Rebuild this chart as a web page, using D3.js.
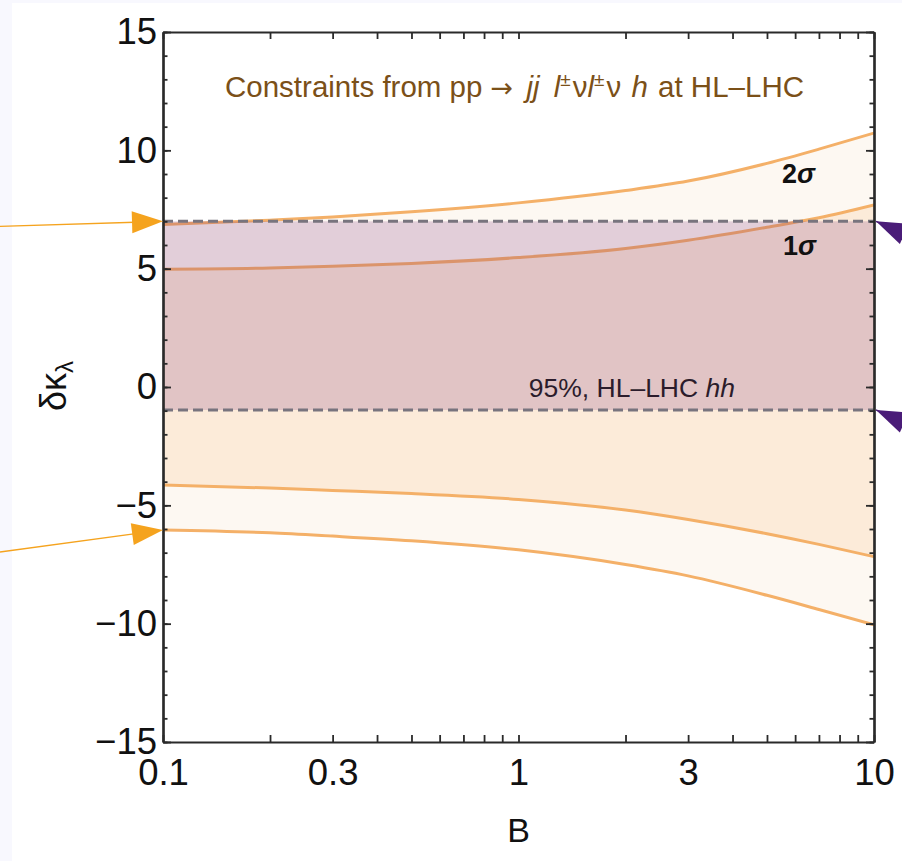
<!DOCTYPE html>
<html>
<head>
<meta charset="utf-8">
<script src="https://cdn.jsdelivr.net/npm/d3@7"></script>
<style>
  html, body { margin: 0; padding: 0; background: #fff; }
  svg { display: block; }
  text { font-family: "Liberation Sans", Arial, Helvetica, sans-serif; }
</style>
</head>
<body>
<svg id="chart" width="902" height="861"></svg>
<script>
// values
const bValues   = [0.1, 0.2, 0.3, 0.5, 1, 2, 3, 5, 7, 10];
const upper2sig = [6.87, 7.05, 7.18, 7.4, 7.78, 8.3, 8.7, 9.45, 10.05, 10.73];
const upper1sig = [4.98, 5.03, 5.1, 5.22, 5.47, 5.85, 6.2, 6.75, 7.15, 7.69];
const lower1sig = [-4.14, -4.27, -4.37, -4.5, -4.75, -5.2, -5.6, -6.2, -6.65, -7.17];
const lower2sig = [-6.04, -6.16, -6.3, -6.5, -6.88, -7.5, -7.98, -8.8, -9.4, -10.05];

// 95% HL-LHC hh band
const hhBand = [-0.97, 7.0];

const xLabelTicks = [0.1, 0.3, 1, 3, 10];
const yMajorTicks = [-15, -10, -5, 0, 5, 10, 15];
const yMinorTicks = d3.range(-15, 16, 1);

// arrows pointing at the frame
const leftArrows  = [7.0, -6.04];
const rightArrows = [7.0, -0.97];

const svg = d3.select("#chart");
const W = 902, H = 861;
const margin = {top: 32, right: 28, bottom: 119, left: 163};
const x0 = margin.left, x1 = W - margin.right;
const y0 = margin.top, y1 = H - margin.bottom;

// page background strips
svg.append("rect").attr("width", W).attr("height", H).attr("fill", "#f8f8fe");
svg.append("rect").attr("x", 12).attr("y", 3).attr("width", W - 12).attr("height", H - 3).attr("fill", "#fff");

const x = d3.scaleLog().domain([0.1, 10]).range([x0, x1]);
const y = d3.scaleLinear().domain([-15, 15]).range([y1, y0]);

const rows = bValues.map((b, i) => ({b, u2: upper2sig[i], u1: upper1sig[i], l1: lower1sig[i], l2: lower2sig[i]}));

svg.append("clipPath").attr("id", "clip")
  .append("rect").attr("x", x0).attr("y", y0).attr("width", x1 - x0).attr("height", y1 - y0);

const plot = svg.append("g").attr("clip-path", "url(#clip)");

const band = (lo, hi) => d3.area().curve(d3.curveMonotoneX)
  .x(d => x(d.b)).y0(d => y(d[lo])).y1(d => y(d[hi]));
const line = key => d3.line().curve(d3.curveMonotoneX).x(d => x(d.b)).y(d => y(d[key]));

plot.append("path").datum(rows).attr("d", band("l2", "u2")).attr("fill", "#fdf8f2");
plot.append("path").datum(rows).attr("d", band("l1", "u1")).attr("fill", "#fcebd9");

["u2", "u1", "l1", "l2"].forEach(k => {
  plot.append("path").datum(rows).attr("d", line(k))
    .attr("fill", "none").attr("stroke", "#f4b068").attr("stroke-width", 3);
});

// purple overlay for the hh band
plot.append("rect")
  .attr("x", x0).attr("width", x1 - x0 + 2)
  .attr("y", y(hhBand[1])).attr("height", y(hhBand[0]) - y(hhBand[1]))
  .attr("fill", "rgb(122,40,118)").attr("fill-opacity", 0.2);

hhBand.forEach(v => {
  plot.append("line")
    .attr("x1", x0).attr("x2", x1).attr("y1", y(v)).attr("y2", y(v))
    .attr("stroke", "#78747e").attr("stroke-width", 3).attr("stroke-dasharray", "10,5");
});

// texts inside
const title = svg.append("text").attr("x", 225).attr("y", 97)
  .attr("font-size", 29.5).attr("fill", "#7b5018");
title.append("tspan").text("Constraints from pp ");
title.append("tspan").attr("font-family", "'DejaVu Sans', sans-serif").attr("font-size", 27).text("\u2192");
title.append("tspan").attr("font-style", "italic").attr("dx", 5).text(" jj");
title.append("tspan").attr("font-style", "italic").attr("dx", 6).text(" l");
title.append("tspan").attr("font-size", 19).attr("dy", -11).text("\u00b1");
title.append("tspan").attr("dy", 11).attr("dx", 2).text("\u03bd");
title.append("tspan").attr("font-style", "italic").text("l");
title.append("tspan").attr("font-size", 19).attr("dy", -11).text("\u00b1");
title.append("tspan").attr("dy", 11).attr("dx", 2).text("\u03bd ");
title.append("tspan").attr("font-style", "italic").attr("dx", 2).text("h");
title.append("tspan").attr("dx", 2).text(" at HL\u2013LHC");

const lab = (t, px, py) => {
  const s = svg.append("text").attr("x", px).attr("y", py)
    .attr("font-size", 27).attr("font-weight", "bold").attr("fill", "#111");
  s.append("tspan").text(t);
  s.append("tspan").attr("font-style", "italic").text("\u03c3");
};
lab("2", 782, 183);
lab("1", 783, 255);

const hh = svg.append("text").attr("x", 735).attr("y", 397).attr("text-anchor", "end")
  .attr("font-size", 26.5).attr("fill", "#2b1c2b");
hh.append("tspan").text("95%, HL\u2013LHC ");
hh.append("tspan").attr("font-style", "italic").text("hh");

// axes, ticks pointing inward
const xTicks = x.ticks();
const axBottom = d3.axisBottom(x).tickValues(xTicks).tickSizeInner(-7).tickSizeOuter(0).tickPadding(17)
  .tickFormat(d => xLabelTicks.includes(+d.toPrecision(3)) ? d3.format("")(+d.toPrecision(3)) : "");
const axTop = d3.axisTop(x).tickValues(xTicks).tickSizeInner(-7).tickSizeOuter(0).tickFormat("");
const axLeftMinor = d3.axisLeft(y).tickValues(yMinorTicks).tickSizeInner(-4.5).tickSizeOuter(0).tickFormat("");
const axLeft = d3.axisLeft(y).tickValues(yMajorTicks).tickSizeInner(-8).tickSizeOuter(0).tickPadding(6);
const axRightMinor = d3.axisRight(y).tickValues(yMinorTicks).tickSizeInner(-4.5).tickSizeOuter(0).tickFormat("");
const axRight = d3.axisRight(y).tickValues(yMajorTicks).tickSizeInner(-8).tickSizeOuter(0).tickFormat("");

const gB = svg.append("g").attr("transform", `translate(0,${y1})`).call(axBottom);
const gT = svg.append("g").attr("transform", `translate(0,${y0})`).call(axTop);
const gLm = svg.append("g").attr("transform", `translate(${x0},0)`).call(axLeftMinor);
const gL = svg.append("g").attr("transform", `translate(${x0},0)`).call(axLeft);
const gRm = svg.append("g").attr("transform", `translate(${x1},0)`).call(axRightMinor);
const gR = svg.append("g").attr("transform", `translate(${x1},0)`).call(axRight);

[gB, gT, gLm, gL, gRm, gR].forEach(g => {
  g.selectAll("path.domain").attr("stroke", "#2a2a2a").attr("stroke-width", 2.2);
  g.selectAll(".tick line").attr("stroke", "#2a2a2a").attr("stroke-width", 1.8);
  g.selectAll("text").attr("font-size", 36.5).attr("fill", "#111")
    .attr("font-family", "'Liberation Sans', Arial, sans-serif");
});

// axis titles
const yt = svg.append("text").attr("transform", "translate(66,386) rotate(-90)")
  .attr("text-anchor", "middle").attr("font-size", 36).attr("fill", "#111");
yt.append("tspan").text("\u03b4\u03ba");
yt.append("tspan").attr("font-size", 24).attr("dy", 7).text("\u03bb");

svg.append("text").attr("x", (x0 + x1) / 2).attr("y", 842).attr("text-anchor", "middle")
  .attr("font-size", 34).attr("fill", "#111").text("B");

// annotation arrows
const arrowHead = (tx, ty, ang, color) => {
  const L = 31, hw = 11;
  const ux = Math.cos(ang), uy = Math.sin(ang);
  const bx = tx + ux * L, by = ty + uy * L;
  const pts = [[tx, ty], [bx - uy * hw, by + ux * hw], [bx + uy * hw, by - ux * hw]];
  svg.append("path").attr("d", "M" + pts.join("L") + "Z").attr("fill", color);
};

leftArrows.forEach((v, i) => {
  const ty = y(v), sy = ty + (i === 0 ? 5 : 22);
  svg.append("line").attr("x1", 0).attr("y1", sy).attr("x2", x0 - 20).attr("y2", ty + (sy - ty) * 20 / x0)
    .attr("stroke", "#f5a31e").attr("stroke-width", 1.4);
  arrowHead(x0, ty, Math.atan2(sy - ty, 0 - x0), "#f5a31e");
});

rightArrows.forEach(v => {
  const ty = y(v);
  const ang = 24 * Math.PI / 180;
  svg.append("line").attr("x1", x1 + 2).attr("y1", ty).attr("x2", x1 + 2 + 120 * Math.cos(ang)).attr("y2", ty + 120 * Math.sin(ang))
    .attr("stroke", "#4a1c78").attr("stroke-width", 1.4);
  arrowHead(x1 + 2, ty, ang, "#4a1c78");
});
</script>
</body>
</html>
